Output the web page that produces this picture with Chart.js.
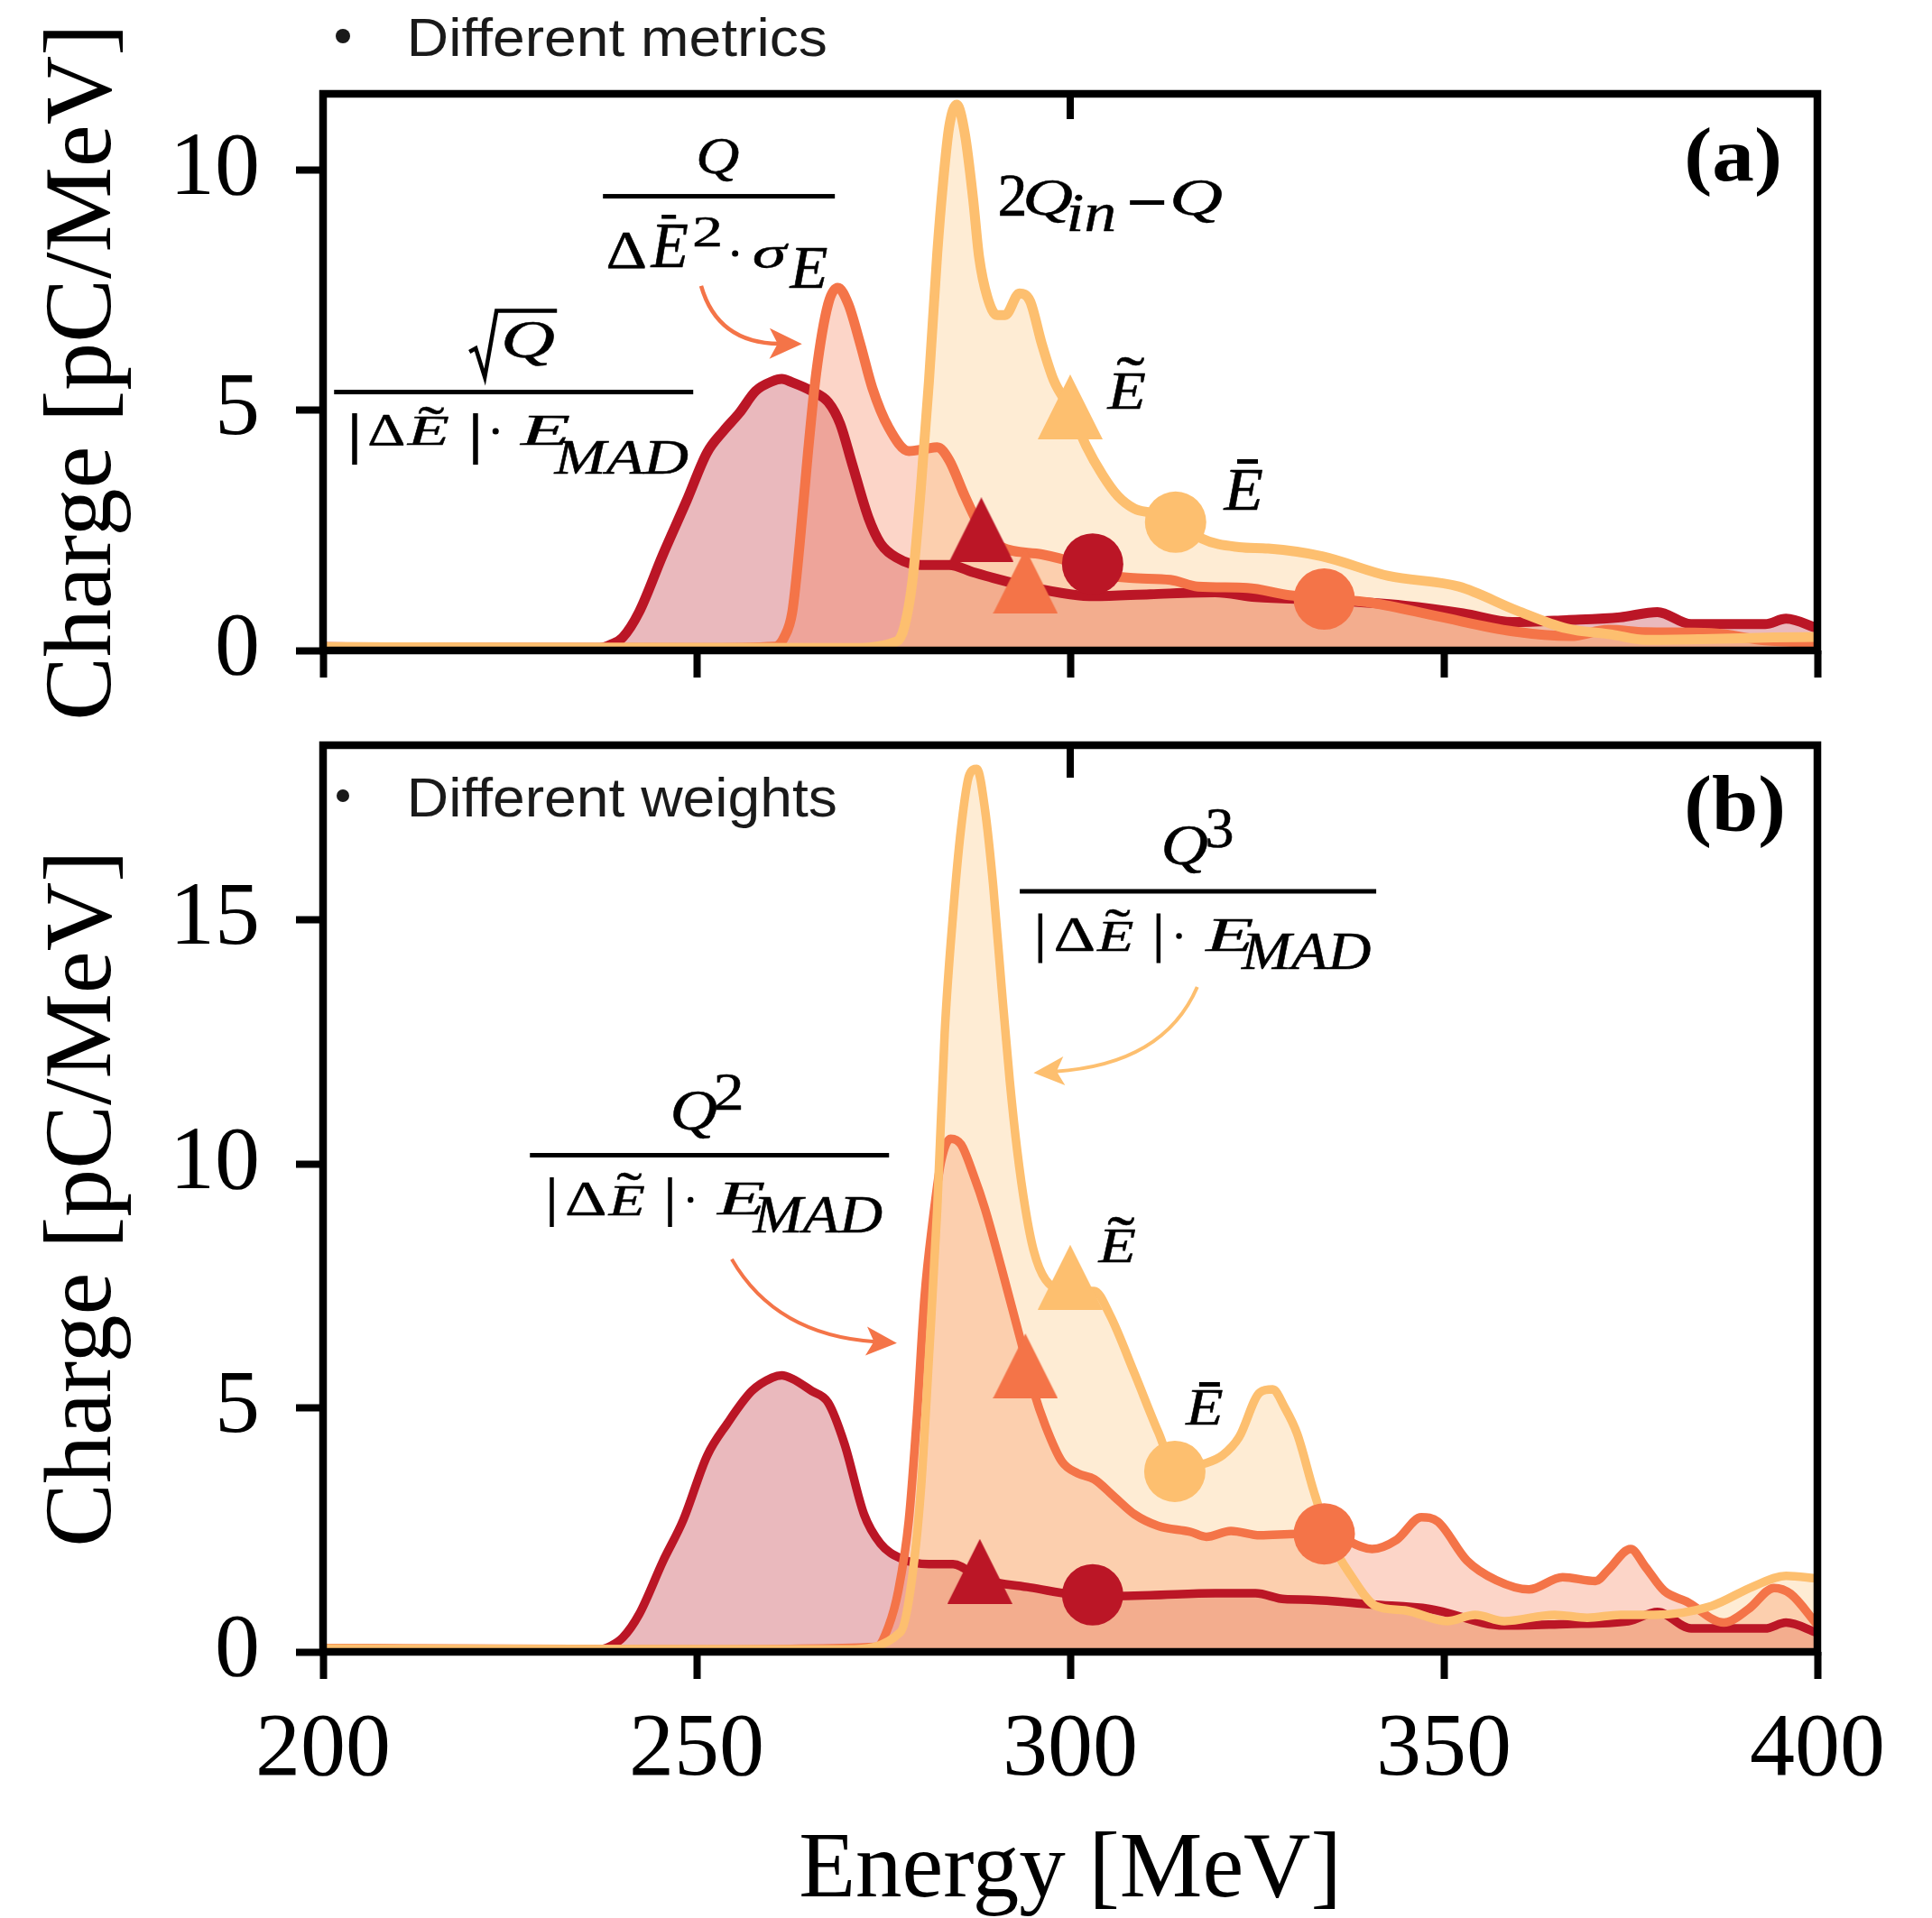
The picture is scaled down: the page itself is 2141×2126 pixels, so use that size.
<!DOCTYPE html>
<html>
<head>
<meta charset="utf-8">
<script src="https://cdn.jsdelivr.net/npm/chart.js@4.4.1/dist/chart.umd.min.js"></script>
<style>
html, body { margin: 0; padding: 0; background: #fff; }
#wrap { position: relative; width: 2141px; height: 2126px; }
canvas { position: absolute; left: 0; top: 0; }
</style>
</head>
<body>
<div id="wrap">
<canvas id="panel-a" width="2141" height="2126"></canvas>
<canvas id="panel-b" width="2141" height="2126"></canvas>
</div>
<script>
// Energy spectra

// (a) different metrics
const energy_red_a = [200, 220, 237, 238.5, 240.1, 242.3, 245.5, 248.7, 251.4, 253.6, 255.7, 257.9, 260.1, 261.4, 262.8, 265.4, 267.6, 269.2, 270.8, 273.0, 274.6, 276.8, 280.0, 283.8, 287.0, 289.7, 294.6, 300.0, 303.2, 310.7, 319.4, 324.8, 334.3, 344.8, 352.6, 359.2, 366.4, 373.6, 378.6, 383.1, 393.0, 395.8, 400];
const charge_red_a = [0.07, 0.05, 0.05, 0.12, 0.27, 0.8, 2.0, 3.13, 4.12, 4.57, 4.94, 5.40, 5.60, 5.65, 5.58, 5.40, 5.17, 4.72, 3.89, 2.76, 2.23, 1.93, 1.78, 1.78, 1.63, 1.51, 1.32, 1.17, 1.13, 1.17, 1.21, 1.11, 1.05, 0.93, 0.77, 0.59, 0.63, 0.69, 0.80, 0.55, 0.55, 0.66, 0.46];

const energy_orange_a = [200, 250, 260.5, 261.7, 262.8, 263.8, 264.9, 266.0, 267.6, 268.9, 270.3, 271.9, 273.5, 275.7, 278.4, 280.5, 282.2, 283.8, 285.9, 288.1, 290.8, 296.2, 300.0, 303.2, 308.0, 313.4, 317.1, 323.7, 329.3, 334.3, 340.4, 349.2, 359.2, 367.0, 372.0, 377.0, 385.8, 393.0, 400];
const charge_orange_a = [0.07, 0.05, 0.08, 0.27, 0.8, 2.23, 4.12, 5.77, 7.21, 7.55, 7.21, 6.38, 5.47, 4.64, 4.15, 4.19, 4.23, 3.96, 3.21, 2.53, 2.15, 2.0, 1.85, 1.63, 1.51, 1.47, 1.33, 1.30, 1.15, 1.08, 0.99, 0.71, 0.40, 0.30, 0.43, 0.38, 0.36, 0.21, 0.16];

const energy_yellow_a = [200, 270, 276.8, 277.8, 278.9, 280.0, 281.1, 282.2, 283.0, 283.8, 284.8, 285.9, 287.0, 287.8, 288.9, 290.2, 291.3, 293.2, 294.6, 296.2, 297.8, 300.0, 302.1, 304.3, 306.4, 308.6, 310.7, 314.0, 317.6, 322.6, 326.5, 333.7, 342.6, 352.0, 359.8, 366.4, 372.5, 377.0, 385.8, 394.2, 400];
const charge_yellow_a = [0.07, 0.05, 0.19, 0.49, 1.47, 3.36, 5.62, 8.26, 9.77, 10.9, 11.36, 10.75, 9.4, 8.19, 7.36, 6.98, 6.98, 7.43, 7.28, 6.38, 5.62, 5.02, 4.27, 3.66, 3.21, 2.95, 2.87, 2.76, 2.33, 2.15, 2.12, 1.96, 1.55, 1.33, 0.83, 0.46, 0.33, 0.22, 0.24, 0.27, 0.28];

// median (triangle) and mean (circle) markers: red, orange, yellow
const median_energy_a = [288.1, 294.0, 300.0];
const median_charge_a = [2.51, 1.44, 5.07];
const mean_energy_a = [303.0, 334.0, 314.1];
const mean_charge_a = [1.80, 1.07, 2.67];

// (b) different weights
const energy_red_b = [200, 220, 237, 238.5, 240.1, 242.3, 245.5, 248.2, 251.4, 254.1, 257.4, 260.1, 261.4, 262.8, 265.4, 267.6, 269.8, 272.4, 274.6, 277.3, 281.1, 284.3, 288.1, 294.6, 303.2, 310.7, 319.4, 324.8, 328.7, 332.0, 340.4, 348.1, 358.1, 366.4, 374.7, 378.6, 383.1, 393.0, 395.8, 400];
const charge_red_b = [0.08, 0.05, 0.05, 0.12, 0.29, 0.77, 1.86, 2.70, 4.02, 4.68, 5.35, 5.62, 5.67, 5.60, 5.35, 5.11, 4.26, 2.82, 2.22, 1.92, 1.80, 1.80, 1.50, 1.32, 1.14, 1.16, 1.20, 1.20, 1.08, 1.07, 0.97, 0.88, 0.54, 0.57, 0.63, 0.82, 0.48, 0.48, 0.60, 0.39];

const energy_orange_b = [200, 250, 274, 275.7, 277.0, 278.4, 279.5, 280.5, 281.6, 282.7, 284.0, 285.4, 287.0, 288.6, 290.8, 293.5, 295.1, 296.7, 298.9, 301.0, 303.2, 305.9, 308.6, 311.8, 316.1, 318.2, 321.5, 325.4, 330.4, 334.3, 340.4, 343.7, 347.0, 349.2, 353.1, 357.0, 361.4, 365.9, 370.3, 372.0, 375.0, 377.0, 379.5, 382.5, 387.5, 390.8, 394.2, 396.4, 400];
const charge_orange_b = [0.08, 0.05, 0.1, 0.53, 1.26, 2.70, 4.87, 7.27, 8.84, 10.04, 10.52, 10.40, 9.80, 9.08, 7.87, 6.31, 5.35, 4.63, 3.90, 3.66, 3.54, 3.18, 2.82, 2.58, 2.46, 2.36, 2.48, 2.39, 2.42, 2.42, 2.11, 2.30, 2.76, 2.67, 1.87, 1.47, 1.28, 1.53, 1.45, 1.68, 2.11, 1.74, 1.25, 1.03, 0.60, 0.88, 1.31, 1.19, 0.55];

const energy_yellow_b = [200, 270, 277.3, 278.6, 280.0, 281.1, 282.2, 283.2, 284.3, 285.4, 286.5, 287.5, 288.6, 289.7, 290.8, 291.9, 292.9, 294.0, 295.1, 296.7, 300.0, 303.2, 305.3, 308.6, 311.8, 314.0, 318.2, 320.4, 322.6, 325.4, 327.1, 328.7, 330.4, 332.6, 334.8, 337.6, 340.9, 344.8, 350.4, 354.2, 358.1, 364.8, 369.2, 373.6, 378.1, 385.8, 391.4, 395.8, 400];
const charge_yellow_b = [0.07, 0.05, 0.41, 1.26, 3.30, 6.07, 9.08, 12.69, 15.09, 16.90, 17.98, 18.10, 17.26, 15.69, 13.65, 11.72, 10.28, 9.08, 8.23, 7.63, 7.40, 7.40, 6.91, 5.71, 4.50, 3.78, 3.87, 4.03, 4.40, 5.32, 5.38, 5.01, 4.46, 3.29, 2.30, 1.56, 0.94, 0.85, 0.63, 0.76, 0.63, 0.76, 0.70, 0.76, 0.76, 0.94, 1.34, 1.56, 1.50];

const median_energy_b = [287.9, 294.0, 300.0];
const median_charge_b = [1.65, 5.86, 7.68];
const mean_energy_b = [303.0, 334.0, 314.0];
const mean_charge_b = [1.17, 2.42, 3.70];

const energy_ticks = [200, 250, 300, 350, 400];

const red = 'rgb(187, 22, 38)';
const orange = 'rgb(244, 116, 72)';
const yellow = 'rgb(253, 191, 111)';
const red_fill = 'rgba(187, 22, 38, 0.3)';
const orange_fill = 'rgba(244, 116, 72, 0.3)';
const yellow_fill = 'rgba(253, 191, 111, 0.3)';

const SERIF = '"Liberation Serif", "Times New Roman", serif';
const SANS = '"Liberation Sans", Arial, sans-serif';

function points(xs, ys) {
	return xs.map((x, i) => ({x: x, y: ys[i]}));
}

function triangleMarker(color) {
	const c = document.createElement('canvas');
	c.width = 72;
	c.height = 72;
	const g = c.getContext('2d');
	g.fillStyle = color;
	g.beginPath();
	g.moveTo(36, 0);
	g.lineTo(72, 72);
	g.lineTo(0, 72);
	g.closePath();
	g.fill();
	return c;
}

const triangles = [triangleMarker(red), triangleMarker(orange), triangleMarker(yellow)];

function curve(xs, ys, color, fillColor, order, width) {
	return {
		data: points(xs, ys),
		borderColor: color,
		backgroundColor: fillColor,
		borderWidth: width,
		fill: 'origin',
		pointRadius: 0,
		cubicInterpolationMode: 'monotone',
		borderJoinStyle: 'round',
		borderCapStyle: 'round',
		order: order,
	};
}

function markers(xs, ys, style) {
	return {
		data: points(xs, ys),
		showLine: false,
		pointStyle: style,
		pointRadius: 34,
		pointBorderWidth: 0,
		pointBackgroundColor: [red, orange, yellow],
		pointBorderColor: [red, orange, yellow],
		order: 0,
	};
}

// draw a string so that its ink fills the box [x0, x1] x [y0, y1]
function fitText(ctx, text, style, family, x0, x1, y0, y1, bold) {
	ctx.font = style + ' 100px ' + family;
	const m = ctx.measureText(text);
	const inkH = m.actualBoundingBoxAscent + m.actualBoundingBoxDescent;
	const inkW = m.actualBoundingBoxLeft + m.actualBoundingBoxRight;
	const k = (y1 - y0) / inkH;
	const sx = (x1 - x0) / (inkW * k);
	ctx.save();
	ctx.font = style + ' ' + (100 * k).toFixed(2) + 'px ' + family;
	ctx.textAlign = 'left';
	ctx.textBaseline = 'alphabetic';
	ctx.translate(x0, y0 + m.actualBoundingBoxAscent * k);
	ctx.scale(sx, 1);
	ctx.fillText(text, m.actualBoundingBoxLeft * k, 0);
	if (bold) {
		ctx.lineWidth = bold / sx;
		ctx.lineJoin = 'round';
		ctx.strokeStyle = ctx.fillStyle;
		ctx.strokeText(text, m.actualBoundingBoxLeft * k, 0);
	}
	ctx.restore();
}

function drawItems(ctx, items, ax, ay) {
	for (const it of items) {
		if (it.bar) {
			ctx.fillRect(ax + it.bar[0], ay - it.bar[2] / 2, it.bar[1] - it.bar[0], it.bar[2]);
		} else if (it.rect) {
			ctx.fillRect(ax + it.rect[0], ay + it.rect[2], it.rect[1] - it.rect[0], it.rect[3] - it.rect[2]);
		} else if (it.dot) {
			ctx.beginPath();
			ctx.arc(ax + it.dot[0], ay + it.dot[1], it.dot[2], 0, 2 * Math.PI);
			ctx.fill();
		} else if (it.poly) {
			ctx.beginPath();
			it.poly.forEach((p, i) => {
				if (i === 0) ctx.moveTo(ax + p[0], ay + p[1]);
				else ctx.lineTo(ax + p[0], ay + p[1]);
			});
			ctx.lineWidth = it.w;
			ctx.lineJoin = 'miter';
			ctx.stroke();
		} else {
			const b = it.b;
			fitText(ctx, it.t, it.s, it.f || SERIF, ax + b[0], ax + b[1], ay + b[2], ay + b[3], 0.6);
		}
	}
}

function drawArrow(ctx, x, y, a) {
	const p0 = [x.getPixelForValue(a.from[0]), y.getPixelForValue(a.from[1])];
	const p1 = [x.getPixelForValue(a.ctrl[0]), y.getPixelForValue(a.ctrl[1])];
	const p2 = [x.getPixelForValue(a.to[0]), y.getPixelForValue(a.to[1])];
	let dx = p2[0] - p1[0];
	let dy = p2[1] - p1[1];
	const len = Math.hypot(dx, dy);
	dx /= len;
	dy /= len;
	const L = a.head[0];
	const W = a.head[1];
	const end = [p2[0] - dx * L * 0.7, p2[1] - dy * L * 0.7];
	ctx.strokeStyle = a.color;
	ctx.fillStyle = a.color;
	ctx.lineWidth = a.width;
	ctx.lineCap = 'butt';
	ctx.beginPath();
	ctx.moveTo(p0[0], p0[1]);
	ctx.quadraticCurveTo(p1[0], p1[1], end[0], end[1]);
	ctx.stroke();
	const bx = p2[0] - dx * L;
	const by = p2[1] - dy * L;
	ctx.beginPath();
	ctx.moveTo(p2[0], p2[1]);
	ctx.lineTo(bx - dy * W / 2, by + dx * W / 2);
	ctx.lineTo(p2[0] - dx * L * 0.75, p2[1] - dy * L * 0.75);
	ctx.lineTo(bx + dy * W / 2, by - dx * W / 2);
	ctx.closePath();
	ctx.fill();
}

// shared denominator |ΔẼ|·E_MAD of panel (b)
const den_b = [
	{rect: [-177, -172.5, 24.5, 79.5]},
	{t: 'Δ', s: 'normal', b: [-158, -116, 30.5, 66.5]},
	{t: 'E', s: 'italic', b: [-113, -72, 34.5, 66.5]},
	{t: '˜', s: 'normal', b: [-103, -75, 20.5, 28.5]},
	{rect: [-46, -41.5, 24.5, 79.5]},
	{dot: [-21, 49.5, 3.2]},
	{t: 'E', s: 'italic', b: [7, 61, 31.5, 66.5]},
	{t: 'MAD', s: 'italic', b: [47, 191, 46.5, 86.5]},
];

const notes = {
	'panel-a': {
		topTick: 28,
		legend: {text: 'Different metrics', dot: [22, -64, 8], box: [98, 557, -85, -41]},
		label: {text: '(a)', box: [1512, 1613, 37, 114]},
		texts: [
			{at: [225.51, 5.378], items: [
				{bar: [-199, 199, 5]},
				{poly: [[-49, -44.5], [-42, -48.5], [-32, -16.5], [-19, -90], [48, -90]], w: 4.5},
				{t: 'Q', s: 'italic', b: [-10, 45, -78, -29]},
				{rect: [-179, -173.5, 23.5, 80.5]},
				{t: 'Δ', s: 'normal', b: [-160, -122, 24.5, 58.5]},
				{t: 'E', s: 'italic', b: [-119, -72, 28.5, 58.5]},
				{t: '˜', s: 'normal', b: [-106, -77, 17.5, 25.5]},
				{rect: [-45, -39.5, 23.5, 80.5]},
				{dot: [-20, 43.5, 3.5]},
				{t: 'E', s: 'italic', b: [6, 62, 26.5, 58.5]},
				{t: 'MAD', s: 'italic', b: [44, 193, 53.5, 90.5]},
			]},
			{at: [252.98, 9.453], items: [
				{bar: [-128.5, 128.5, 5]},
				{t: 'Q', s: 'italic', b: [-22, 22, -63, -15.5]},
				{t: 'Δ', s: 'normal', b: [-123, -82, 40.5, 79.5]},
				{t: 'E', s: 'italic', b: [-76.5, -34.5, 32.5, 79.5]},
				{rect: [-63.5, -47.5, 20.5, 25]},
				{t: '2', s: 'normal', b: [-27, 1, 22.5, 55.5]},
				{dot: [18, 63.5, 3.5]},
				{t: 'σ', s: 'italic', b: [38.5, 77.5, 52.5, 79.5]},
				{t: 'E', s: 'italic', b: [77.5, 120, 58.5, 102.5]},
			]},
			{at: [290.60, 9.031], items: [
				{t: '2', s: 'normal', b: [0, 27, -46, 0]},
				{t: 'Q', s: 'italic', b: [29, 80, -40, 8]},
				{t: 'in', s: 'italic', b: [77, 126, -24, 17]},
				{rect: [144, 182, -18, -13]},
				{t: 'Q', s: 'italic', b: [192, 246, -40, 8]},
			]},
			{at: [307.39, 5.012], items: [
				{t: 'E', s: 'italic', b: [-21, 22, -39, 0]},
				{t: '˜', s: 'normal', b: [-10, 21, -57, -48]},
			]},
			{at: [323.07, 2.91], items: [
				{t: 'E', s: 'italic', b: [-22, 22, -45, 0]},
				{rect: [-6, 17, -57, -52]},
			]},
		],
		arrows: [
			{from: [250.6, 7.59], ctrl: [252.8, 6.40], to: [264.1, 6.38], color: orange, width: 4.5, head: [36, 34]},
		],
	},
	'panel-b': {
		topTick: 36,
		legend: {text: 'Different weights', dot: [22, 56, 7], box: [98, 568, 34, 92]},
		label: {text: '(b)', box: [1512, 1617, 33, 114]},
		texts: [
			{at: [251.72, 10.181], items: [
				{bar: [-199, 199, 5]},
				{t: 'Q', s: 'italic', b: [-40, 8, -70, -17.5]},
				{t: '2', s: 'normal', b: [7, 35, -90, -50]},
			].concat(den_b)},
			{at: [317.10, 15.591], items: [
				{bar: [-197.5, 197.5, 5]},
				{t: 'Q', s: 'italic', b: [-37.5, 10.5, -72, -19]},
				{t: '3', s: 'normal', b: [10.5, 38, -91, -48]},
			].concat(den_b)},
			{at: [306.19, 7.971], items: [
				{t: 'E', s: 'italic', b: [-21, 21, -36, 0]},
				{t: '˜', s: 'normal', b: [-10, 20, -50, -41]},
			]},
			{at: [317.86, 4.642], items: [
				{t: 'E', s: 'italic', b: [-21, 21, -37, 0]},
				{rect: [-5, 18, -48, -43]},
			]},
		],
		arrows: [
			{from: [254.7, 8.05], ctrl: [260.6, 6.49], to: [276.8, 6.33], color: orange, width: 4, head: [34, 32]},
			{from: [317.0, 13.63], ctrl: [312.5, 12.04], to: [295.1, 11.87], color: yellow, width: 4, head: [34, 32]},
		],
	},
};

const decorations = {
	id: 'decorations',
	afterDatasetsDraw(chart) {
		const cfg = notes[chart.canvas.id];
		const {ctx, chartArea: area} = chart;
		const x = chart.scales.x;
		const y = chart.scales.y;
		ctx.save();

		// frame and the inner tick at 300 MeV on the top spine
		ctx.strokeStyle = '#000';
		ctx.fillStyle = '#000';
		ctx.lineWidth = 8.5;
		ctx.lineJoin = 'miter';
		ctx.strokeRect(area.left, area.top, area.right - area.left, area.bottom - area.top);
		const px = x.getPixelForValue(300);
		ctx.fillRect(px - 4, area.top, 8, cfg.topTick);

		// legend entry
		const lg = cfg.legend;
		ctx.fillStyle = '#1a1a1a';
		ctx.beginPath();
		ctx.arc(area.left + lg.dot[0], area.top + lg.dot[1], lg.dot[2], 0, 2 * Math.PI);
		ctx.fill();
		fitText(ctx, lg.text, 'normal', SANS, area.left + lg.box[0], area.left + lg.box[1], area.top + lg.box[2], area.top + lg.box[3]);

		// panel label
		ctx.fillStyle = '#000';
		const lb = cfg.label;
		fitText(ctx, lb.text, 'bold', SERIF, area.left + lb.box[0], area.left + lb.box[1], area.top + lb.box[2], area.top + lb.box[3]);

		// formulas and marker names
		for (const note of cfg.texts) {
			ctx.fillStyle = '#000';
			ctx.strokeStyle = '#000';
			drawItems(ctx, note.items, x.getPixelForValue(note.at[0]), y.getPixelForValue(note.at[1]));
		}
		for (const a of cfg.arrows) {
			drawArrow(ctx, x, y, a);
		}
		ctx.restore();
	},
};

function axisOptions(showX, ymax, xHeight) {
	return {
		x: {
			type: 'linear',
			min: 200,
			max: 400,
			afterBuildTicks: (scale) => { scale.ticks = energy_ticks.map((v) => ({value: v})); },
			ticks: {
				display: showX,
				color: '#000',
				font: {family: SERIF, size: 100},
				padding: 20,
				maxRotation: 0,
				autoSkip: false,
			},
			grid: {display: true, drawOnChartArea: false, drawTicks: true, tickLength: 30, tickWidth: 8, tickColor: '#000'},
			border: {display: false},
			title: {
				display: showX,
				text: 'Energy [MeV]',
				color: '#000',
				font: {family: SERIF, size: 103, lineHeight: 1},
				padding: {top: 0, bottom: 0},
			},
			afterFit: (scale) => { scale.height = xHeight; },
		},
		y: {
			type: 'linear',
			min: 0,
			max: ymax,
			ticks: {
				stepSize: 5,
				includeBounds: false,
				color: '#000',
				font: {family: SERIF, size: 100},
				padding: 40,
			},
			grid: {display: true, drawOnChartArea: false, drawTicks: true, tickLength: 30, tickWidth: 8, tickColor: '#000'},
			border: {display: false},
			title: {
				display: true,
				text: 'Charge [pC/MeV]',
				color: '#000',
				font: {family: SERIF, size: 106, lineHeight: 1},
				padding: {top: 41, bottom: 0},
			},
			afterFit: (scale) => { scale.width = 358; },
		},
	};
}

function makePanel(id, datasets, ymax, padding, showX, xHeight) {
	return new Chart(document.getElementById(id).getContext('2d'), {
		type: 'line',
		data: {datasets: datasets},
		options: {
			responsive: false,
			animation: false,
			devicePixelRatio: 1,
			events: [],
			layout: {padding: padding},
			scales: axisOptions(showX, ymax, xHeight),
			plugins: {
				legend: {display: false},
				tooltip: {enabled: false},
				filler: {propagate: false, drawTime: 'beforeDatasetsDraw'},
			},
		},
		plugins: [decorations],
	});
}

var panel_a = makePanel('panel-a', [
	markers(median_energy_a, median_charge_a, triangles),
	markers(mean_energy_a, mean_charge_a, 'circle'),
	curve(energy_yellow_a, charge_yellow_a, yellow, yellow_fill, 1, 11),
	curve(energy_orange_a, charge_orange_a, orange, orange_fill, 2, 11),
	curve(energy_red_a, charge_red_a, red, red_fill, 3, 11),
], 11.585, {left: 0, top: 104, right: 127, bottom: 1365}, false, 40);

var panel_b = makePanel('panel-b', [
	markers(median_energy_b, median_charge_b, triangles),
	markers(mean_energy_b, mean_charge_b, 'circle'),
	curve(energy_yellow_b, charge_yellow_b, yellow, yellow_fill, 1, 9.5),
	curve(energy_orange_b, charge_orange_b, orange, orange_fill, 2, 9.5),
	curve(energy_red_b, charge_red_b, red, red_fill, 3, 9.5),
], 18.587, {left: 0, top: 826, right: 127, bottom: 0}, true, 295);
</script>
</body>
</html>
